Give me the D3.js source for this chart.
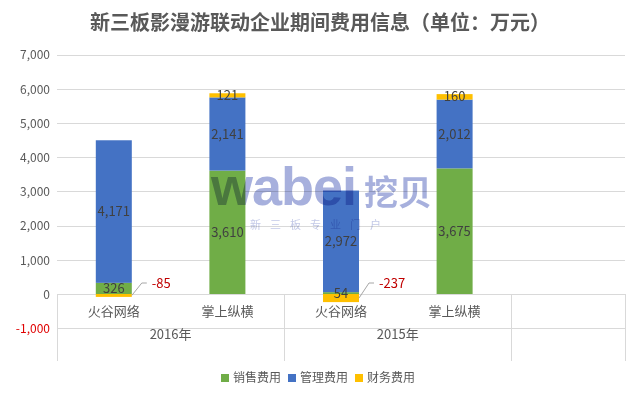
<!DOCTYPE html>
<html>
<head>
<meta charset="utf-8">
<script src="https://cdn.jsdelivr.net/npm/d3@7"></script>
<style>
  html, body { margin: 0; padding: 0; background: #fff; }
  svg { display: block; font-family: "Microsoft YaHei", "Noto Sans CJK SC", "Noto Sans", sans-serif; }
</style>
</head>
<body>
<svg id="chart" width="640" height="399"></svg>
<script>
// ---- data ----
const companies = ["火谷网络", "掌上纵横", "火谷网络", "掌上纵横", ""];
const years = ["2016年", "2015年"];
const seriesNames = ["销售费用", "管理费用", "财务费用"];
const sales = [326, 3610, 54, 3675];
const mgmt = [4171, 2141, 2972, 2012];
const fin = [-85, 121, -237, 160];
const yTicks = [-1000, 0, 1000, 2000, 3000, 4000, 5000, 6000, 7000];
const colors = ["#70AD47", "#4472C4", "#FFC000"];
const titleText = "新三板影漫游联动企业期间费用信息（单位：万元）";

// ---- layout ----
const left = 57, right = 625;
const y0px = 294, yTopPx = 54.7;

const locale = d3.formatLocale({ decimal: ".", thousands: ",", grouping: [3], currency: ["", ""], minus: "-" });
const fmt = locale.format(",d");

const svg = d3.select("#chart");

const rows = sales.map((s, i) => ({ i, s0: s, s1: mgmt[i], s2: fin[i] }));
const keys = ["s0", "s1", "s2"];
const stacked = d3.stack().keys(keys).offset(d3.stackOffsetDiverging)(rows);

const x = d3.scaleBand().domain(d3.range(companies.length)).range([left, right]).padding(0);
const y = d3.scaleLinear().domain([0, 7000]).range([y0px, yTopPx]);
const barW = 36;

// gridlines
const grid = svg.append("g");
yTicks.forEach(t => {
  grid.append("line")
    .attr("x1", left).attr("x2", right)
    .attr("y1", Math.round(y(t)) + 0.5).attr("y2", Math.round(y(t)) + 0.5)
    .attr("stroke", "#D9D9D9").attr("stroke-width", 1);
});

// category axis box lines
const axisG = svg.append("g").attr("stroke", "#D9D9D9").attr("stroke-width", 1);
const bottom = 361;
[0, 2, 4].forEach(k => {
  const xx = Math.round(x(k)) + 0.5;
  axisG.append("line").attr("x1", xx).attr("x2", xx).attr("y1", y0px).attr("y2", bottom);
});
axisG.append("line").attr("x1", Math.round(right) + 0.5).attr("x2", Math.round(right) + 0.5).attr("y1", y0px).attr("y2", bottom);

// y axis labels
const yAxis = d3.axisLeft(y).tickValues(yTicks).tickSize(0).tickPadding(0).tickFormat(fmt);
const yg = svg.append("g").attr("transform", `translate(${left - 7},0)`).call(yAxis);
yg.select(".domain").remove();
yg.selectAll("text")
  .attr("font-size", 12)
  .attr("font-family", "\"Microsoft YaHei\", \"Noto Sans CJK SC\", sans-serif")
  .attr("fill", d => d < 0 ? "#E00000" : "#595959")
  .attr("dy", "0.35em");

// bars
stacked.forEach((layer, li) => {
  svg.append("g").selectAll("rect").data(layer).join("rect")
    .attr("x", d => x(d.data.i) + (x.bandwidth() - barW) / 2)
    .attr("width", barW)
    .attr("y", d => y(Math.max(d[0], d[1])))
    .attr("height", d => Math.abs(y(d[0]) - y(d[1])))
    .attr("fill", colors[li]);
});

// watermark
const wm = svg.append("g").attr("fill", "#A7B0DD").style("mix-blend-mode", "multiply");
wm.append("text").attr("x", 211).attr("y", 205)
  .attr("font-size", 54).attr("font-weight", "bold")
  .attr("font-family", "Arial, \"Liberation Sans\", sans-serif")
  .attr("letter-spacing", -1)
  .text("wabei");
wm.append("text").attr("x", 364).attr("y", 205)
  .attr("font-size", 34).attr("font-weight", "bold")
  .text("挖贝");
wm.append("text").attr("x", 250).attr("y", 229)
  .attr("font-size", 11).attr("letter-spacing", 9)
  .attr("fill", "#C3C9E8")
  .text("新三板专业门户");

// data labels
const labG = svg.append("g").attr("font-size", 13).attr("text-anchor", "middle");
stacked.forEach((layer, li) => {
  layer.forEach(d => {
    const v = d.data[keys[li]];
    const cx = x(d.data.i) + x.bandwidth() / 2;
    const cy = (y(d[0]) + y(d[1])) / 2;
    if (v >= 0) {
      labG.append("text").attr("x", cx).attr("y", cy).attr("dy", "0.35em")
        .attr("fill", "#404040").text(fmt(v));
    } else {
      const x1 = x(d.data.i) + (x.bandwidth() + barW) / 2;
      const ly = y(0) - 11;
      labG.append("path")
        .attr("d", `M${x1},${cy} L${x1 + 10},${ly} L${x1 + 15},${ly}`)
        .attr("fill", "none").attr("stroke", "#A6A6A6").attr("stroke-width", 1);
      labG.append("text").attr("x", x1 + 20).attr("y", ly).attr("dy", "0.35em")
        .attr("text-anchor", "start")
        .attr("fill", "#C00000").text(fmt(v));
    }
  });
});

// category labels
const catG = svg.append("g").attr("font-size", 13).attr("fill", "#595959").attr("text-anchor", "middle");
companies.forEach((c, i) => {
  catG.append("text").attr("x", x(i) + x.bandwidth() / 2).attr("y", 311).attr("dy", "0.35em").text(c);
});
years.forEach((yr, k) => {
  catG.append("text").attr("x", x(k * 2) + x.bandwidth()).attr("y", 334).attr("dy", "0.35em").text(yr);
});

// title
svg.append("text").attr("x", 320).attr("y", 23).attr("text-anchor", "middle")
  .attr("dy", "0.35em")
  .attr("font-size", 20).attr("font-weight", "bold").attr("fill", "#595959")
  .text(titleText);

// legend
const legend = svg.append("g").attr("font-size", 12).attr("fill", "#595959");
const legX = [221, 288, 355];
seriesNames.forEach((n, i) => {
  legend.append("rect").attr("x", legX[i]).attr("y", 374).attr("width", 8).attr("height", 8).attr("fill", colors[i]);
  legend.append("text").attr("x", legX[i] + 12).attr("y", 378).attr("dy", "0.35em").text(n);
});
</script>
</body>
</html>
